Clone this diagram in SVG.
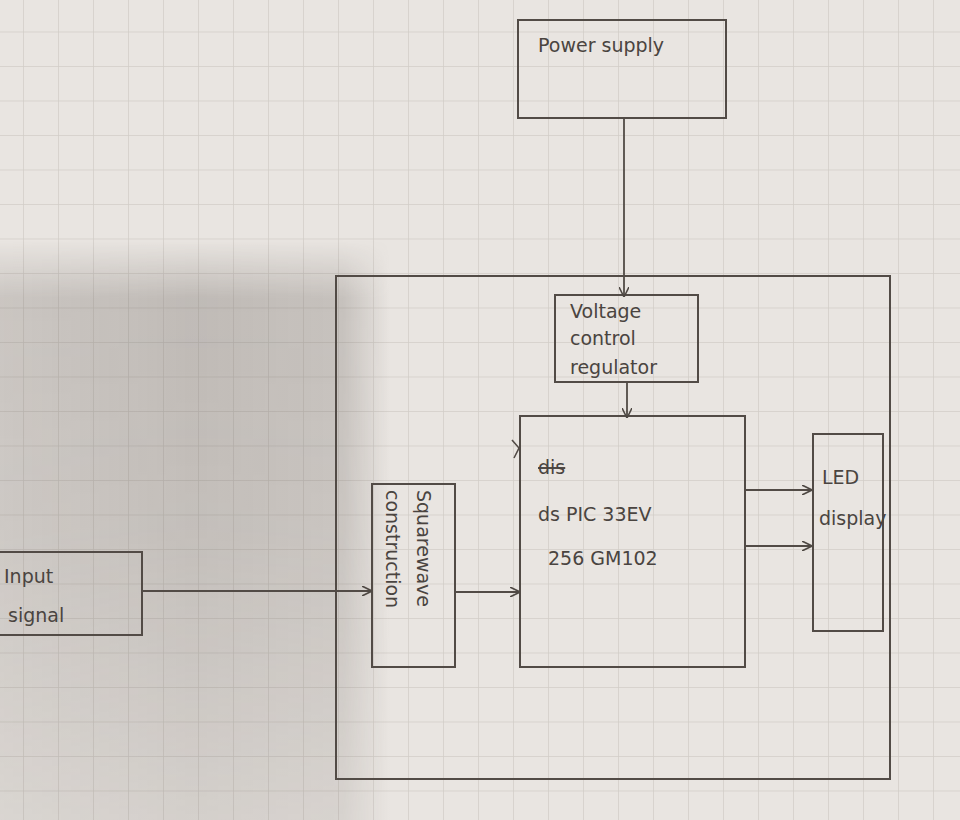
<svg xmlns="http://www.w3.org/2000/svg" width="960" height="820" viewBox="0 0 960 820">
<defs>
<pattern id="grid" x="-12" y="-3" width="35" height="34.5" patternUnits="userSpaceOnUse">
<path d="M0 0H35M0 0V34.5" fill="none" stroke="#d2cdc8" stroke-width="1.5"/>
</pattern>
<linearGradient id="shade" x1="0" y1="0" x2="1" y2="0">
<stop offset="0" stop-color="#5f5853" stop-opacity="0.22"/>
<stop offset="0.5" stop-color="#5f5853" stop-opacity="0.3"/>
<stop offset="0.88" stop-color="#5f5853" stop-opacity="0.25"/>
<stop offset="1" stop-color="#5f5853" stop-opacity="0"/>
</linearGradient>
<linearGradient id="shadeV" x1="0" y1="0" x2="0" y2="1">
<stop offset="0" stop-color="#fff" stop-opacity="0"/>
<stop offset="0.1" stop-color="#fff" stop-opacity="1"/>
<stop offset="0.5" stop-color="#fff" stop-opacity="0.9"/>
<stop offset="1" stop-color="#fff" stop-opacity="0.5"/>
</linearGradient>
<mask id="m"><rect x="0" y="240" width="390" height="580" fill="url(#shadeV)"/></mask>
<marker id="ah" viewBox="0 0 10 10" refX="10" refY="5" markerWidth="10" markerHeight="10" markerUnits="userSpaceOnUse" orient="auto">
<path d="M0 0L10 5L0 10" fill="none" stroke="#4f4944" stroke-width="1.6"/>
</marker>
<style>
.box{fill:none;stroke:#524b46;stroke-width:2}
.ln{fill:none;stroke:#524b46;stroke-width:1.8;marker-end:url(#ah)}
.t{font-family:"DejaVu Sans","Liberation Sans",sans-serif;fill:#4a4440;font-size:19px}
</style>
</defs>
<rect width="960" height="820" fill="#e9e5e1"/>
<rect width="960" height="820" fill="url(#grid)"/>
<rect x="0" y="240" width="390" height="580" fill="url(#shade)" mask="url(#m)"/>

<g id="power-supply">
<rect class="box" x="518" y="20" width="208" height="98"/>
<text class="t" x="538" y="52">Power supply</text>
</g>
<g id="outer-board">
<rect class="box" x="336" y="276" width="554" height="503"/>
</g>
<g id="voltage-regulator">
<rect class="box" x="555" y="295" width="143" height="87"/>
<text class="t" x="570" y="318" font-size="17">Voltage</text>
<text class="t" x="570" y="345" font-size="17">control</text>
<text class="t" x="570" y="374" font-size="17">regulator</text>
</g>
<g id="dspic">
<rect class="box" x="520" y="416" width="225" height="251"/>
<text class="t" x="538" y="474" font-size="16" text-decoration="line-through">dis</text>
<text class="t" x="538" y="521">ds PIC 33EV</text>
<text class="t" x="548" y="565">256 GM102</text>
</g>
<g id="squarewave">
<rect class="box" x="372" y="484" width="83" height="183"/>
<text class="t" transform="translate(417 490) rotate(90)" font-size="17">Squarewave</text>
<text class="t" transform="translate(386 490) rotate(90)" font-size="17">construction</text>
</g>
<g id="input-signal">
<path class="box" d="M0 552H142V635H0"/>
<text class="t" x="4" y="583">Input</text>
<text class="t" x="8" y="622">signal</text>
</g>
<g id="led-display">
<rect class="box" x="813" y="434" width="70" height="197"/>
<text class="t" x="822" y="484">LED</text>
<text class="t" x="819" y="525" font-size="14">display</text>
</g>
<g id="connectors">
<path class="ln" d="M624 118V297"/>
<path class="ln" d="M627 382V418"/>
<path class="ln" d="M142 591H372"/>
<path class="ln" d="M455 592H520"/>
<path class="ln" d="M745 490H812"/>
<path class="ln" d="M745 546H812"/>
<path d="M512 440L519 448L514 458" fill="none" stroke="#524b46" stroke-width="1.6"/>
</g>
</svg>
